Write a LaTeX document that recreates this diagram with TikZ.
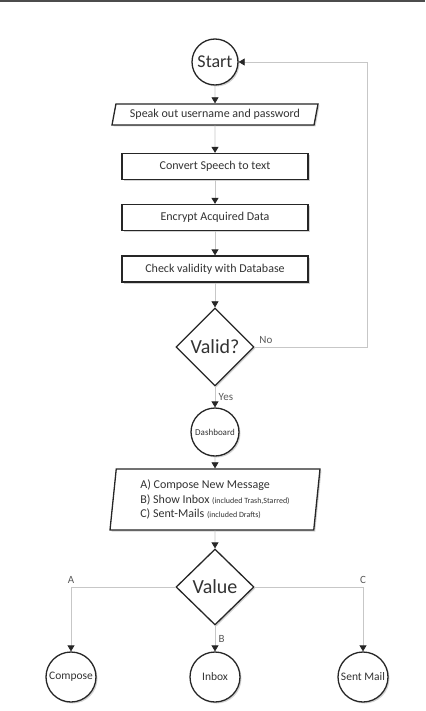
\documentclass[tikz,border=0pt]{standalone}
\usepackage{fontspec}
\setmainfont{Carlito}
\usetikzlibrary{shapes.geometric,arrows.meta,shadows}
\newcommand{\smalltxt}[1]{{\fontsize{8}{10}\selectfont #1}}
\begin{document}
\begin{tikzpicture}[x=1pt,y=-1pt,
every node/.style={font=\fontsize{12}{14.5}\selectfont,text=black!80},
box/.style={draw=black!85,line width=1.3pt,fill=white,
drop shadow={shadow xshift=1.5pt,shadow yshift=-1.5pt,opacity=.35}},
proc/.style={box,rectangle,minimum width=186pt,minimum height=26pt,inner sep=0pt},
io/.style={box,trapezium,trapezium stretches body,inner sep=0pt},
term/.style={box,circle,inner sep=0pt},
decide/.style={box,diamond,aspect=1,inner sep=0pt,minimum width=78pt,minimum height=78pt,
font=\fontsize{20}{24}\selectfont},
flow/.style={draw=black!22,line width=.8pt,-{Triangle[length=6pt,width=7pt,color=black!85]}},
lbl/.style={font=\fontsize{11}{13}\selectfont,text=black!65}
]
\useasboundingbox (0,0) rectangle (425,711);
\draw[black!70,line width=1.5pt](0,1)--(425,1);
% login part
\node[term,minimum size=46pt,font=\fontsize{18}{22}\selectfont]at(215,62)(start){Start};
\node[io,minimum width=206pt,minimum height=21pt,trapezium left angle=69,trapezium right angle=111]at(215,114.5)(speak){Speak out username and password};
\node[proc]at(215,166.5)(conv){Convert Speech to text};
\node[proc]at(215,217.5)(encr){Encrypt Acquired Data};
\node[proc]at(215,269)(chk){Check validity with Database};
\node[decide]at(215,347)(valid){Valid?};
\coordinate(loop)at(367,62);
% menu part
\node[term,minimum size=48pt,font=\fontsize{9}{11}\selectfont]at(215,432)(dash){Dashboard};
\node[io,minimum width=210pt,minimum height=61pt,trapezium left angle=81,trapezium right angle=99,align=left]at(215,499.5)(menu){A) Compose New Message\\B) Show Inbox \smalltxt{(included Trash,Starred)}\\C) Sent-Mails \smalltxt{(included Drafts)}};
\node[decide,minimum height=76pt]at(215,587)(value){Value};
\node[term,minimum size=50pt,font=\fontsize{11.5}{13}\selectfont]at(71,677)(comp){Compose};
\node[term,minimum size=50pt,font=\fontsize{11.5}{13}\selectfont]at(215,677)(inbox){Inbox};
\node[term,minimum size=50pt,font=\fontsize{11.5}{13}\selectfont]at(363,677)(sent){Sent Mail};
% connectors
\draw[flow](start)--(speak);
\draw[flow](speak)--(conv);
\draw[flow](conv)--(encr);
\draw[flow](encr)--(chk);
\draw[flow](chk)--(valid);
\draw[flow](valid.east)-|(loop)node[pos=.05,above,lbl]{No}--(start.east);
\draw[flow](valid)--node[right,lbl]{Yes}(dash);
\draw[flow](dash)--(menu);
\draw[flow](menu)--(value);
\draw[flow](value.west)-|node[pos=.5,above,lbl]{A}(comp);
\draw[flow](value.east)-|node[pos=.5,above,lbl]{C}(sent);
\draw[flow](value)--node[right,lbl]{B}(inbox);
\end{tikzpicture}
\end{document}
